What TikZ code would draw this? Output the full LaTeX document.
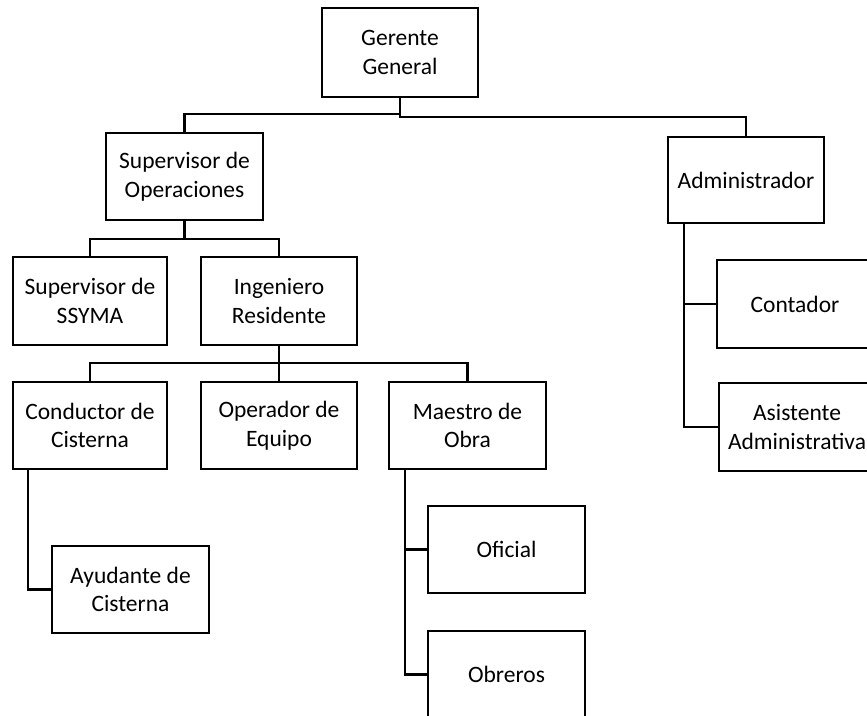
\documentclass[tikz,border=0pt]{standalone}
\usepackage{fontspec}
\setmainfont{Carlito}
\begin{document}
\begin{tikzpicture}[x=1pt,y=-1pt,line width=2.4pt,
  box/.style={draw=black,line width=2.4pt,rectangle,inner sep=0pt,align=center,
    minimum width=156pt,minimum height=87pt,
    font=\fontsize{23.5}{28.5}\selectfont},
  conn/.style={draw=black,line width=2.4pt,line cap=rect,line join=miter}]
\useasboundingbox (0,0) rectangle (867,715);
\clip (0,0) rectangle (867,715);
% Gerente connectors
\coordinate (g1) at (400,114);
\coordinate (g2) at (400,117);
\coordinate (j1) at (184.5,239);
\coordinate (j2) at (279,363);
\node[box,minimum height=89pt] (gg) at (400,52.5) {Gerente\\General};
\node[box,minimum width=157pt] (so) at (184.5,176.5) {Supervisor de\\Operaciones};
\node[box,minimum height=86pt] (ad) at (746,180) {Administrador};
\node[box,minimum width=154pt,minimum height=88pt] (ss) at (90,301) {Supervisor de\\SSYMA};
\node[box,minimum height=88pt] (ir) at (279,301) {Ingeniero\\Residente};
\node[box,minimum width=154pt] (cc) at (90,425.5) {Conductor de\\Cisterna};
\node[box] (oe) at (279,425.5) {Operador de\\Equipo};
\node[box,minimum width=157pt] (mo) at (467.5,425.5) {Maestro de\\Obra};
\node[box,minimum width=157pt] (ay) at (130.5,589.5) {Ayudante de\\Cisterna};
\node[box,minimum width=157pt] (of) at (506.5,549.5) {Oficial};
\node[box,minimum width=157pt] (ob) at (506.5,674.5) {Obreros};
\node[box,minimum height=88pt] (co) at (795,304) {Contador};
\node[box,minimum height=88pt] (aa) at (797,427) {Asistente\\Administrativa};
\draw[conn] (gg.south) -- (g2) -| (ad.north);
\draw[conn] (so.north) |- (g1);
% Supervisor de Operaciones
\draw[conn] (so.south) -- (j1);
\draw[conn] (ss.north) |- (j1) -| (ir.north);
% Ingeniero Residente
\draw[conn] (ir.south) -- (oe.north);
\draw[conn] (cc.north) |- (j2) -| (mo.north);
% Conductor -> Ayudante
\draw[conn] ([xshift=-62pt]cc.south) |- (ay.west);
% Maestro -> Oficial, Obreros
\draw[conn] ([xshift=-62.5pt]mo.south) |- (ob.west);
\draw[conn] ([xshift=-62.5pt]mo.south) |- (of.west);
% Administrador -> Contador, Asistente
\draw[conn] ([xshift=-62pt]ad.south) |- (aa.west);
\draw[conn] ([xshift=-62pt]ad.south) |- (co.west);
\end{tikzpicture}
\end{document}
